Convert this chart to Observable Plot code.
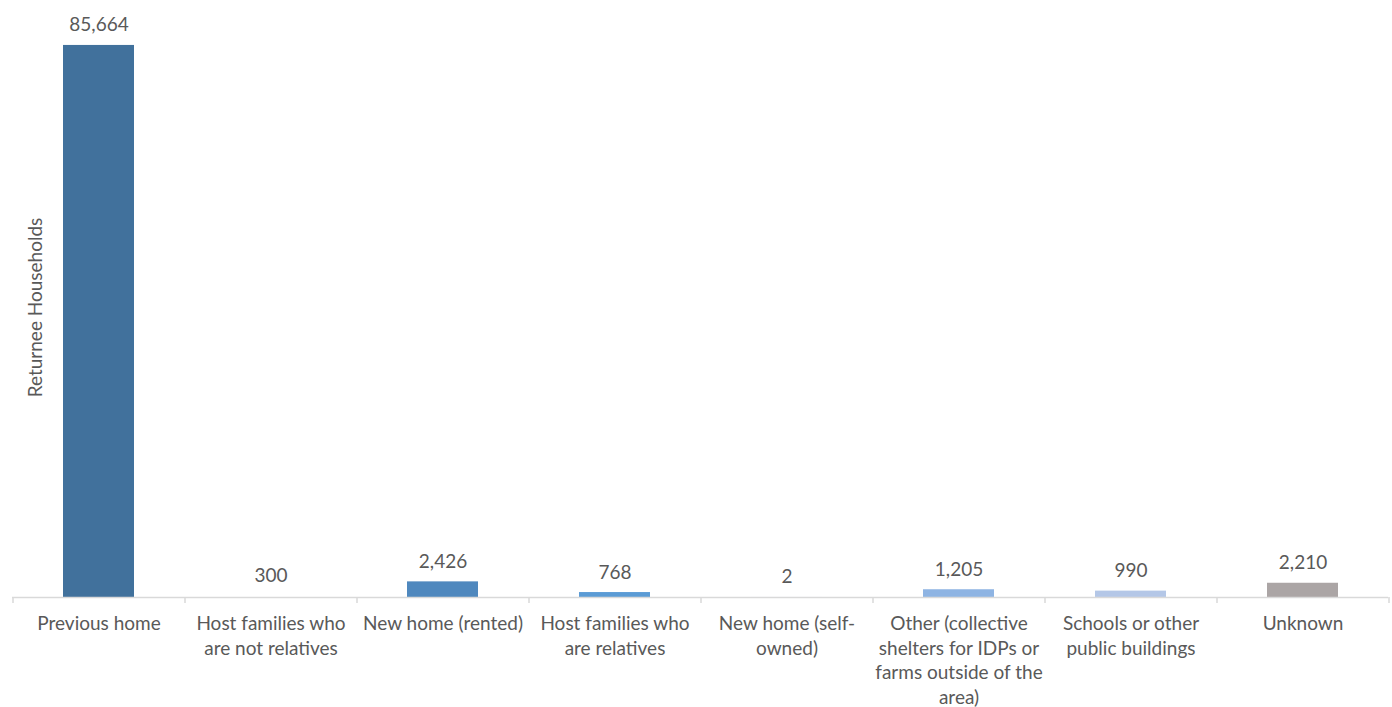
<!DOCTYPE html>
<html>
<head>
<meta charset="utf-8">
<script src="https://cdn.jsdelivr.net/npm/d3@7"></script>
<script src="https://cdn.jsdelivr.net/npm/@observablehq/plot@0.6"></script>
<style>
  html, body { margin: 0; padding: 0; background: #fff; }
  #chart { width: 1392px; height: 707px; }
</style>
</head>
<body>
<div id="chart"></div>
<script>
const categories = [
  "Previous home",
  "Host families who are not relatives",
  "New home (rented)",
  "Host families who are relatives",
  "New home (self-owned)",
  "Other (collective shelters for IDPs or farms outside of the area)",
  "Schools or other public buildings",
  "Unknown"
];
const tickLabels = [
  "Previous home",
  "Host families who\nare not relatives",
  "New home (rented)",
  "Host families who\nare relatives",
  "New home (self-\nowned)",
  "Other (collective\nshelters for IDPs or\nfarms outside of the\narea)",
  "Schools or other\npublic buildings",
  "Unknown"
];
const values = [85664, 300, 2426, 768, 2, 1205, 990, 2210];
const colors = ["#41719C", "#FFFFFF", "#4F88BE", "#5B9BD5", "#7FA7D8", "#8EB4E3", "#B4C7E7", "#ABA5A5"];
const yLabel = "Returnee Households";

const data = categories.map((c, i) => ({category: c, value: values[i], color: colors[i], tick: tickLabels[i]}));
const labelOf = new Map(categories.map((c, i) => [c, tickLabels[i]]));
const grey = "#595959";
const font = "Lato, 'Open Sans', sans-serif";

const chart = Plot.plot({
  width: 1392,
  height: 707,
  marginLeft: 12,
  marginRight: 4,
  marginTop: 17,
  marginBottom: 110,
  style: {fontFamily: font, fontSize: "19px", color: grey, background: "#fff"},
  x: {domain: categories, paddingInner: 0.59, paddingOuter: 0.295, label: null},
  y: {domain: [0, 90000], axis: null},
  marks: [
    Plot.barY(data, {x: "category", y: "value", fill: "color"}),
    Plot.ruleY([0], {stroke: "#D9D9D9", strokeWidth: 1.5}),
    Plot.axisX({tickSize: 6, tickFormat: () => "", dx: -86, stroke: "#D9D9D9", strokeWidth: 1.5, label: null}),
    Plot.axisX([categories[categories.length - 1]], {tickSize: 6, tickFormat: () => "", dx: 86, stroke: "#D9D9D9", strokeWidth: 1.5, label: null}),
    Plot.axisX({tickSize: 0, tickPadding: 15, tickFormat: d => labelOf.get(d), fill: grey, fontSize: 19, lineHeight: 1.3, lineAnchor: "top", label: null}),
    Plot.text(data, {x: "category", y: "value", text: d => d3.format(",")(d.value), lineAnchor: "bottom", dy: -14, fill: grey, fontSize: 19}),
    Plot.text([yLabel], {frameAnchor: "left", textAnchor: "middle", rotate: -90, dx: 23, fill: grey, fontSize: 19})
  ]
});
document.getElementById("chart").appendChild(chart);
</script>
</body>
</html>
